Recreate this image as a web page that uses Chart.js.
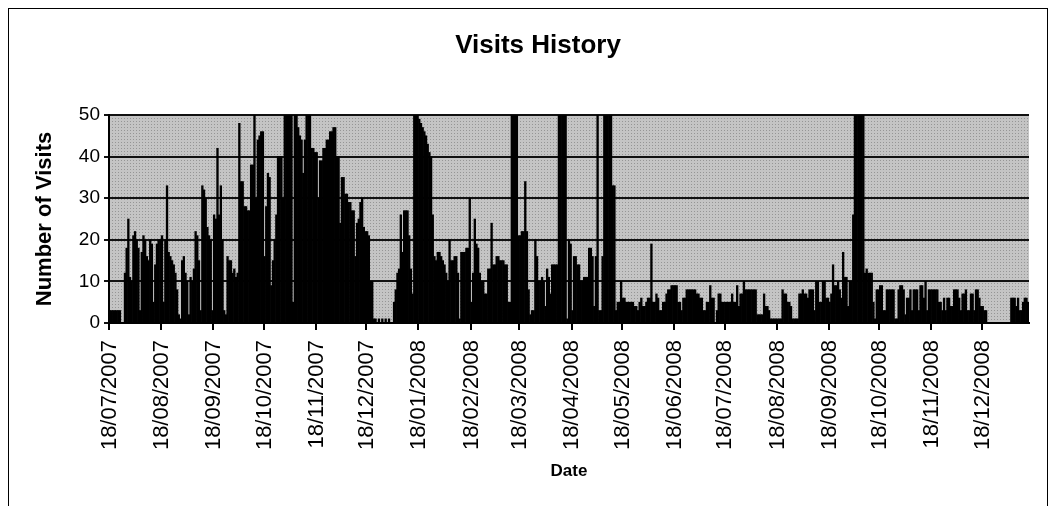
<!DOCTYPE html>
<html>
<head>
<meta charset="utf-8">
<script src="https://cdn.jsdelivr.net/npm/chart.js@4/dist/chart.umd.min.js"></script>
<style>
  html, body { margin: 0; padding: 0; background: #fff; overflow: hidden; }
  #wrap { position: relative; width: 1054px; height: 506px; }
  #frame { position: absolute; left: 8px; top: 8px; width: 1038px; height: 600px; border: 1px solid #000; }
  #visitsChart { position: absolute; left: 0; top: 0; }
</style>
</head>
<body>
<div id="wrap">
  <div id="frame"></div>
  <canvas id="visitsChart" width="1054" height="506"></canvas>
</div>
<script>
// first day of the series, one bar per day
const startDate = [2007, 7, 18];

// daily visits (values above 50 run off the top)
const visits = [
  3, 3, 3, 3, 3, 3, 3, 0, 0, 12, 18, 25, 11, 10, 21, 22, 20, 18, 3, 17,
  21, 20, 16, 15, 20, 19, 5, 14, 19, 20, 20, 21, 5, 20, 33, 17, 16, 15, 14, 12,
  8, 2, 1, 15, 16, 12, 10, 2, 11, 10, 13, 22, 21, 15, 3, 33, 32, 30, 23, 21,
  20, 3, 26, 25, 42, 26, 33, 20, 3, 2, 16, 15, 15, 12, 13, 11, 12, 48, 34, 34,
  28, 28, 27, 27, 38, 38, 58, 30, 44, 45, 46, 46, 16, 28, 36, 35, 9, 15, 20, 26,
  40, 40, 40, 30, 58, 60, 57, 55, 52, 5, 50, 60, 47, 45, 44, 36, 44, 58, 60, 57,
  42, 42, 41, 41, 30, 39, 39, 42, 42, 44, 44, 46, 46, 47, 47, 40, 40, 24, 35, 35,
  31, 31, 29, 29, 27, 27, 16, 24, 25, 29, 30, 23, 22, 22, 21, 10, 10, 1, 1, 0,
  1, 0, 1, 0, 1, 0, 1, 0, 0, 5, 8, 12, 13, 26, 17, 27, 27, 27, 21, 13,
  7, 60, 60, 60, 49, 48, 47, 46, 45, 43, 41, 40, 26, 16, 15, 17, 17, 16, 15, 14,
  12, 10, 20, 15, 15, 16, 16, 12, 1, 17, 17, 17, 18, 18, 30, 5, 12, 25, 19, 18,
  12, 10, 10, 7, 7, 13, 13, 24, 14, 14, 16, 16, 15, 15, 15, 14, 14, 5, 5, 60,
  60, 60, 60, 21, 21, 22, 22, 34, 22, 8, 2, 3, 3, 20, 16, 10, 10, 11, 10, 4,
  13, 11, 7, 14, 14, 14, 14, 60, 60, 60, 60, 60, 1, 20, 19, 3, 16, 16, 14, 14,
  10, 10, 11, 11, 11, 18, 18, 16, 4, 16, 60, 3, 3, 16, 60, 60, 60, 60, 60, 33,
  33, 3, 5, 5, 10, 6, 6, 5, 5, 5, 5, 5, 4, 4, 3, 5, 6, 4, 4, 5,
  6, 6, 19, 5, 5, 7, 6, 3, 3, 5, 5, 7, 8, 8, 9, 9, 9, 9, 5, 5,
  3, 6, 6, 8, 8, 8, 8, 8, 8, 7, 7, 6, 6, 3, 3, 5, 5, 9, 6, 6,
  0, 3, 7, 7, 5, 5, 5, 5, 5, 5, 7, 5, 5, 9, 4, 7, 7, 10, 8, 8,
  8, 8, 8, 8, 8, 2, 2, 2, 2, 7, 4, 4, 3, 1, 1, 1, 1, 1, 1, 1,
  8, 7, 7, 5, 5, 4, 1, 1, 1, 1, 7, 7, 8, 7, 7, 6, 8, 8, 8, 3,
  10, 10, 5, 5, 10, 10, 6, 6, 5, 7, 14, 9, 9, 10, 8, 6, 17, 11, 11, 4,
  10, 10, 26, 60, 60, 60, 60, 60, 60, 12, 13, 12, 12, 12, 5, 1, 8, 8, 9, 9,
  3, 3, 8, 8, 8, 8, 8, 1, 1, 8, 9, 9, 8, 2, 6, 6, 8, 3, 8, 8,
  8, 3, 9, 9, 6, 10, 3, 8, 8, 8, 8, 8, 8, 5, 5, 3, 6, 3, 6, 6,
  4, 4, 8, 8, 8, 6, 3, 7, 7, 8, 3, 3, 7, 7, 3, 8, 8, 6, 4, 4,
  3, 3, 0, 0, 0, 0, 0, 0, 0, 0, 0, 0, 0, 0, 0, 0, 6, 6, 6, 4,
  6, 3, 3, 5, 6, 6, 5
];

// labels printed under the axis
const monthTicks = [
  '18/07/2007', '18/08/2007', '18/09/2007', '18/10/2007', '18/11/2007', '18/12/2007',
  '18/01/2008', '18/02/2008', '18/03/2008', '18/04/2008', '18/05/2008', '18/06/2008',
  '18/07/2008', '18/08/2008', '18/09/2008', '18/10/2008', '18/11/2008', '18/12/2008'
];

const yTicks = [0, 10, 20, 30, 40, 50];

// one dd/mm/yyyy label per bar
const pad2 = n => (n < 10 ? '0' : '') + n;
const days = visits.map((v, i) => {
  const d = new Date(Date.UTC(startDate[0], startDate[1] - 1, startDate[2] + i));
  return pad2(d.getUTCDate()) + '/' + pad2(d.getUTCMonth() + 1) + '/' + d.getUTCFullYear();
});

const FONT = "'Liberation Sans', Arial, sans-serif";
Chart.defaults.color = '#000';
Chart.defaults.font.family = FONT;

// grey dotted plot area like the old spreadsheet chart
function dotPattern(ctx) {
  const c = document.createElement('canvas');
  c.width = 3; c.height = 3;
  const p = c.getContext('2d');
  p.fillStyle = '#c4c4c4';
  p.fillRect(0, 0, 3, 3);
  p.fillStyle = '#959595';
  p.fillRect(1, 1, 1, 1);
  return ctx.createPattern(c, 'repeat');
}

const plotBg = {
  id: 'plotBg',
  beforeDraw(chart) {
    const { ctx, chartArea: a } = chart;
    ctx.save();
    ctx.fillStyle = dotPattern(ctx);
    ctx.fillRect(a.left, a.top, a.right - a.left, a.bottom - a.top);
    ctx.restore();
  }
};

// chart title sits a bit left of the plot centre in the original
const titleText = {
  id: 'titleText',
  afterDraw(chart) {
    const { ctx } = chart;
    ctx.save();
    ctx.font = 'bold 26px ' + FONT;
    ctx.fillStyle = '#000';
    ctx.textAlign = 'center';
    ctx.textBaseline = 'middle';
    ctx.fillText('Visits History', 538, 46);
    ctx.restore();
  }
};

const ctx = document.getElementById('visitsChart').getContext('2d');
new Chart(ctx, {
  type: 'bar',
  plugins: [plotBg, titleText],
  data: {
    labels: days,
    datasets: [{
      label: 'Visits',
      data: visits,
      backgroundColor: '#000',
      borderWidth: 0,
      barPercentage: 1,
      categoryPercentage: 1,
      clip: 0
    }]
  },
  options: {
    responsive: false,
    animation: false,
    devicePixelRatio: 1,
    layout: { padding: { left: 0, right: 25, top: 115, bottom: 0 } },
    plugins: {
      legend: { display: false },
      tooltip: { enabled: false },
      title: { display: false }
    },
    scales: {
      x: {
        offset: true,
        grid: {
          display: true,
          offset: true,
          drawOnChartArea: false,
          drawTicks: true,
          tickLength: 7,
          lineWidth: 2,
          color: c => (c.tick && monthTicks.includes(days[c.index])) ? '#000' : 'rgba(0,0,0,0)'
        },
        border: { display: true, color: '#000', width: 2, z: 1 },
        ticks: {
          autoSkip: false,
          minRotation: 90,
          maxRotation: 90,
          padding: 10,
          color: '#000',
          font: { size: 22, family: FONT },
          callback: function (value) {
            const l = this.getLabelForValue(value);
            return monthTicks.includes(l) ? l : '';
          }
        },
        title: {
          display: true,
          text: 'Date',
          color: '#000',
          font: { size: 17, weight: 'bold', family: FONT },
          padding: { top: 0, bottom: 24 }
        },
        afterFit: s => {
          s.height = 183;
          s.paddingLeft = 0;
          s.paddingRight = 0;
        }
      },
      y: {
        min: 0,
        max: 50,
        afterBuildTicks: s => { s.ticks = yTicks.map(v => ({ value: v })); },
        grid: {
          color: '#111',
          lineWidth: 2,
          tickLength: 5
        },
        border: { display: true, color: '#000', width: 2, z: 1 },
        ticks: {
          padding: 4,
          color: '#000',
          font: { size: 19, family: FONT }
        },
        title: {
          display: true,
          text: 'Number of Visits',
          color: '#000',
          font: { size: 22, weight: 'bold', family: FONT },
          padding: { top: 32, bottom: 0 }
        },
        afterFit: s => { s.width = 109; }
      }
    }
  }
});
</script>
</body>
</html>
